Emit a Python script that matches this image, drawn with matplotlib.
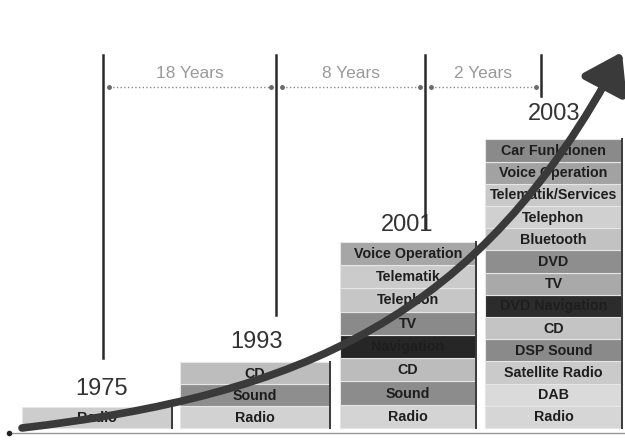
import matplotlib
matplotlib.use('Agg')
import matplotlib.pyplot as plt
from matplotlib.path import Path
from matplotlib.patches import FancyArrowPatch

# data: features of each year, listed bottom -> top
years = [1975, 1993, 2001, 2003]
features_1975 = ['Radio']
features_1993 = ['Radio', 'Sound', 'CD']
features_2001 = ['Radio', 'Sound', 'CD', 'Navigation', 'TV', 'Telephon',
                 'Telematik', 'Voice Operation']
features_2003 = ['Radio', 'DAB', 'Satellite Radio', 'DSP Sound', 'CD',
                 'DVD Navigation', 'TV', 'DVD', 'Bluetooth', 'Telephon',
                 'Telematik/Services', 'Voice Operation', 'Car Funktionen']
features = [features_1975, features_1993, features_2001, features_2003]

# styles (grey shade of every box, same order as the features)
shades = [
    ['#cdcdcd'],
    ['#d2d2d2', '#8e8e8e', '#bdbdbd'],
    ['#d4d4d4', '#8c8c8c', '#bcbcbc', '#262626', '#8a8a8a', '#c6c6c6',
     '#cbcbcb', '#a6a6a6'],
    ['#d6d6d6', '#dadada', '#cacaca', '#8a8a8a', '#c4c4c4', '#2c2c2c',
     '#a9a9a9', '#8e8e8e', '#c2c2c2', '#d0d0d0', '#c9c9c9', '#a2a2a2',
     '#8a8a8a'],
]

# layout (pixel-like units, y grows downwards)
BASE = 428
col_left = [22, 180, 340, 485]
col_right = [172, 330, 476, 622]
row_h = [21, 22, 23.3, 22.2]
year_x = [102, 257, 407, 554]
year_gap = [18, 20, 17, 25]
div_x = [103, 276, 425, 541]
div_bottom = [358, 315, 228, 96]
DIV_TOP = 55
SPAN_Y = 87

LABEL_FONT = 'Liberation Sans'

fig = plt.figure(figsize=(6.25, 4.41), dpi=100)
ax = fig.add_axes([0, 0, 1, 1])
ax.set_xlim(0, 625)
ax.set_ylim(441, 0)
ax.axis('off')

for k, year in enumerate(years):
    cx = (col_left[k] + col_right[k]) / 2
    w = col_right[k] - col_left[k]
    h = row_h[k]
    for i, name in enumerate(features[k]):
        bottom = BASE - (i + 1) * h
        ax.bar(cx, h, bottom=bottom, width=w, color=shades[k][i],
               edgecolor='#e6e6e6', linewidth=0.8, zorder=2)
        ax.text(cx, bottom + h / 2 + 0.5, name, ha='center', va='center',
                fontsize=10.3, fontweight='bold', color='#1e1e1e',
                family=LABEL_FONT, zorder=3)
    top = BASE - len(features[k]) * h
    ax.plot([col_right[k], col_right[k]], [top, BASE], color='#3a3a3a',
            lw=1.4, zorder=3)
    ax.text(year_x[k], top - year_gap[k], str(year), ha='center', va='center',
            fontsize=17, color='#333333', family=LABEL_FONT, zorder=3)

# year dividers and spans
for k in range(len(years)):
    ax.plot([div_x[k], div_x[k]], [DIV_TOP, div_bottom[k]], color='#2a2a2a',
            lw=1.8, zorder=3)
for k in range(len(years) - 1):
    x0, x1 = div_x[k] + 6, div_x[k + 1] - 5
    ax.plot([x0, x1], [SPAN_Y, SPAN_Y], ls=':', color='#8a8a8a', lw=1, zorder=3)
    ax.plot([x0, x1], [SPAN_Y, SPAN_Y], ls='none', marker='o', ms=2.5,
            color='#6a6a6a', zorder=3)
    ax.text((x0 + x1) / 2, SPAN_Y - 13, f'{years[k + 1] - years[k]} Years',
            ha='center', va='center', fontsize=12.5, color='#9a9a9a',
            family=LABEL_FONT, zorder=3)

# baseline
ax.plot([9, 625], [433, 433], color='#9a9a9a', lw=1, zorder=1)
ax.plot([9], [433], marker='o', ms=3, color='#222222', zorder=1)

# growth arrow
path = Path([(22, 428), (300, 395), (480, 320), (622, 52)],
            [Path.MOVETO, Path.CURVE4, Path.CURVE4, Path.CURVE4])
arrow = FancyArrowPatch(path=path, arrowstyle='-|>,head_length=1.2,head_width=0.8',
                        mutation_scale=19, color='#3a3a3a', lw=5.5, zorder=5)
ax.add_patch(arrow)

fig.savefig('out.png', dpi=100)
